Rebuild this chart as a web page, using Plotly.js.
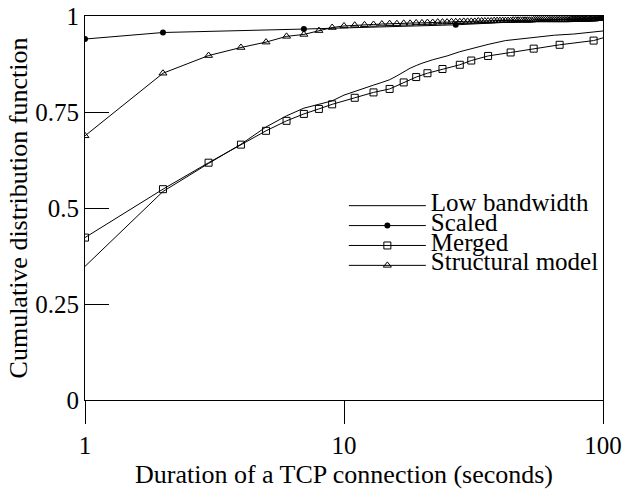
<!DOCTYPE html>
<html>
<head>
<meta charset="utf-8">
<script src="https://cdn.plot.ly/plotly-3.0.1.min.js"></script>
<style>
  html, body { margin: 0; padding: 0; background: #fff; }
  #chart { width: 634px; height: 489px; }
</style>
</head>
<body>
<div id="chart"></div>
<script>
// ---- Data ----
var lowBwX = [1, 2, 3, 4, 5, 6, 7, 8, 9, 10, 11, 12, 13, 14, 15, 16, 17, 18, 19, 20, 22, 25, 28, 32, 36, 42, 50, 57, 65, 77, 88, 100];
var lowBwY = [0.348, 0.543, 0.616, 0.666, 0.711, 0.740, 0.760, 0.770, 0.779, 0.794, 0.804, 0.813, 0.820, 0.827, 0.834, 0.844, 0.855, 0.864, 0.871, 0.877, 0.886, 0.896, 0.907, 0.918, 0.926, 0.936, 0.942, 0.946, 0.950, 0.953, 0.957, 0.961];

var scaledX = [1, 2, 7, 27, 100];
var scaledY = [0.940, 0.957, 0.966, 0.977, 0.996];

var mergedX = [1, 2, 3, 4, 5, 6, 7, 8, 9, 11, 13, 15, 17, 19, 21, 24, 28, 31, 36, 44, 54, 68, 92, 115];
var mergedY = [0.423, 0.549, 0.618, 0.665, 0.701, 0.727, 0.745, 0.758, 0.770, 0.787, 0.801, 0.810, 0.827, 0.841, 0.851, 0.862, 0.873, 0.884, 0.896, 0.905, 0.915, 0.925, 0.936, 0.955];

var structX = [1, 2, 3, 4, 5, 6, 7, 8, 9, 10,
  11, 12, 13, 14, 15, 16, 17, 18, 19, 20,
  21, 22, 23, 24, 25, 26, 27, 28, 29, 30,
  31, 32, 33, 34, 35, 36, 37, 38, 39, 40,
  41, 42, 43, 44, 45, 46, 47, 48, 49, 50,
  51, 52, 53, 54, 55, 56, 57, 58, 59, 60,
  61, 62, 63, 64, 65, 66, 67, 68, 69, 70,
  71, 72, 73, 74, 75, 76, 77, 78, 79, 80,
  81, 82, 83, 84, 85, 86, 87, 88, 89, 90,
  91, 92, 93, 94, 95, 96, 97, 98, 99, 100];
var structY = [0.688, 0.851, 0.897, 0.918, 0.932, 0.947, 0.952, 0.962, 0.970, 0.974,
  0.976, 0.977, 0.978, 0.979, 0.980, 0.980, 0.981, 0.981, 0.982, 0.982,
  0.983, 0.983, 0.984, 0.984, 0.984, 0.985, 0.985, 0.985, 0.986, 0.986,
  0.986, 0.986, 0.987, 0.987, 0.987, 0.987, 0.987, 0.988, 0.988, 0.988,
  0.988, 0.988, 0.988, 0.988, 0.989, 0.989, 0.989, 0.989, 0.989, 0.989,
  0.989, 0.989, 0.989, 0.990, 0.990, 0.990, 0.990, 0.990, 0.990, 0.990,
  0.990, 0.990, 0.990, 0.990, 0.990, 0.990, 0.990, 0.990, 0.990, 0.990,
  0.990, 0.990, 0.990, 0.990, 0.991, 0.991, 0.991, 0.991, 0.991, 0.991,
  0.991, 0.991, 0.991, 0.991, 0.991, 0.991, 0.992, 0.992, 0.992, 0.992,
  0.992, 0.992, 0.992, 0.993, 0.993, 0.993, 0.994, 0.994, 0.995, 0.996];

var seriesNames = ['Low bandwidth', 'Scaled', 'Merged', 'Structural model'];
var xTickVals = [1, 10, 100];
var xTickText = ['1', '10', '100'];
var yTickVals = [0, 0.25, 0.5, 0.75, 1];
var yTickText = ['0', '0.25', '0.5', '0.75', '1'];
var xTitle = 'Duration of a TCP connection (seconds)';
var yTitle = 'Cumulative distribution function';

// ---- Styling ----
var FONT = '"Liberation Serif", "Times New Roman", Times, serif';
function legendName(s) { return '<span style="font-size:25px">' + s + '</span>'; }
var lineStyle = { color: '#000', width: 1 };

var traces = [
  { x: lowBwX, y: lowBwY, name: legendName(seriesNames[0]), mode: 'lines', line: lineStyle },
  { x: scaledX, y: scaledY, name: legendName(seriesNames[1]), mode: 'lines+markers', line: lineStyle,
    marker: { symbol: 'circle', size: 6, color: '#000' } },
  { x: mergedX, y: mergedY, name: legendName(seriesNames[2]), mode: 'lines+markers', line: lineStyle,
    marker: { symbol: 'square-open', size: 7, color: '#000', line: { width: 1, color: '#000' } } },
  { x: structX, y: structY, name: legendName(seriesNames[3]), mode: 'lines+markers', line: lineStyle,
    marker: { symbol: 'triangle-up-open', size: 7, color: '#000', line: { width: 1, color: '#000' } } }
];

var layout = {
  width: 634, height: 489,
  margin: { l: 85, r: 31, t: 16, b: 89, pad: 0 },
  paper_bgcolor: '#fff', plot_bgcolor: '#fff',
  font: { family: FONT, color: '#000', size: 25 },
  showlegend: true,
  legend: {
    x: 0.4997, y: 0.545, xanchor: 'left', yanchor: 'top',
    bgcolor: 'rgba(0,0,0,0)', borderwidth: 0,
    itemwidth: 77,
    font: { family: FONT, size: 13, color: '#000' },
    tracegroupgap: 0
  },
  xaxis: {
    type: 'log', range: [0, 2],
    tickmode: 'array', tickvals: xTickVals, ticktext: xTickText,
    ticks: 'outside', ticklen: 23, tickwidth: 1, tickcolor: '#000',
    showline: true, linecolor: '#000', linewidth: 1, mirror: true,
    showgrid: false, zeroline: false,
    tickfont: { family: FONT, size: 25, color: '#000' },
    title: { text: xTitle, standoff: 18, font: { family: FONT, size: 26, color: '#000' } }
  },
  yaxis: {
    range: [0, 1],
    tickmode: 'array', tickvals: yTickVals, ticktext: yTickText,
    ticks: 'inside', ticklen: 24, tickwidth: 1, tickcolor: '#000',
    showline: true, linecolor: '#000', linewidth: 1, mirror: true,
    showgrid: false, zeroline: false,
    tickfont: { family: FONT, size: 25, color: '#000' },
    title: { text: yTitle, standoff: 0, font: { family: FONT, size: 26, color: '#000' } }
  }
};

Plotly.newPlot('chart', traces, layout, { staticPlot: true, displayModeBar: false });
</script>
</body>
</html>
